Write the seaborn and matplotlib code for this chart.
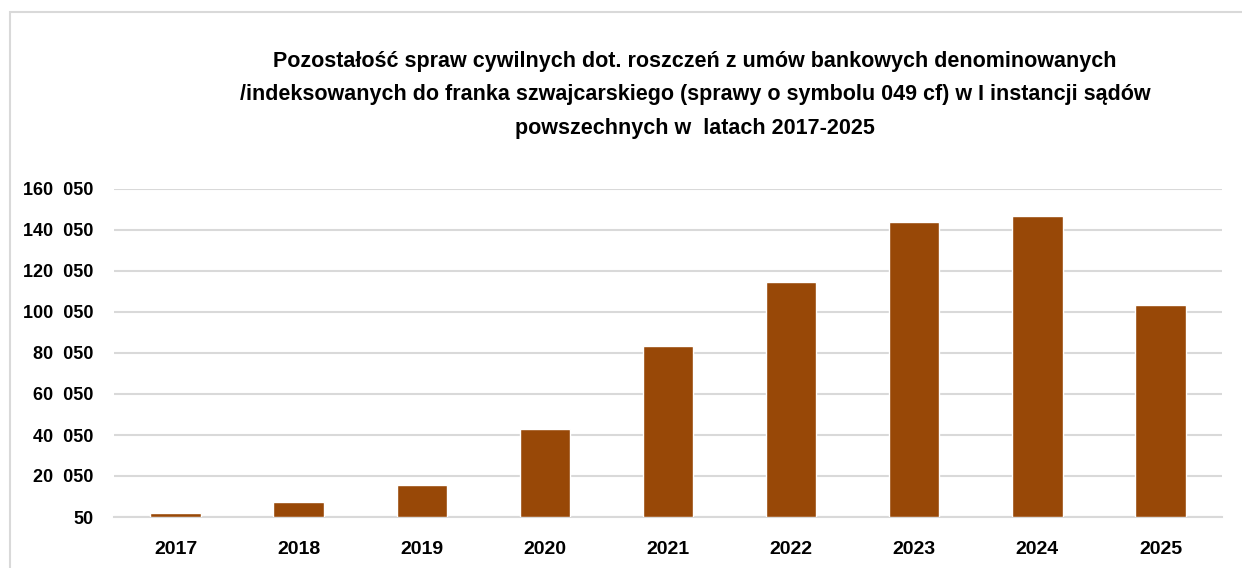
import matplotlib
matplotlib.use("Agg")
import matplotlib.pyplot as plt
import seaborn as sns
import pandas as pd
from matplotlib.patches import Rectangle
from matplotlib.ticker import FuncFormatter

# dane
years = ["2017", "2018", "2019", "2020", "2021", "2022", "2023", "2024", "2025"]
cases = [2000, 7400, 15900, 43200, 83700, 114500, 143800, 146900, 103400]
y_ticks = [50, 20050, 40050, 60050, 80050, 100050, 120050, 140050, 160050]

title = ("Pozostałość spraw cywilnych dot. roszczeń z umów bankowych denominowanych\n"
         "/indeksowanych do franka szwajcarskiego (sprawy o symbolu 049 cf) w I instancji sądów\n"
         "powszechnych w  latach 2017-2025")

sns.set_style("white")
plt.rcParams['font.family'] = ['Liberation Sans', 'DejaVu Sans']
plt.rcParams['font.weight'] = 'bold'
plt.rcParams['text.color'] = 'black'
plt.rcParams['xtick.color'] = 'black'
plt.rcParams['ytick.color'] = 'black'

df = pd.DataFrame({"rok": years, "sprawy": cases})

fig = plt.figure(figsize=(12.42, 5.68), dpi=100)
ax = fig.add_axes([114/1242, 1 - 517/568, (1222 - 114)/1242, (517 - 189)/568])

sns.barplot(data=df, x="rok", y="sprawy", color="#984807", saturation=1,
            width=0.41, ax=ax, zorder=3)

ax.set_ylim(50, 160050)
ax.set_xlim(-0.5, len(years) - 0.5)
ax.set_yticks(y_ticks)
ax.yaxis.set_major_formatter(FuncFormatter(lambda v, p: f"{int(v):,}".replace(",", "  ")))
ax.grid(axis="y", color="#d9d9d9", linewidth=1.5, zorder=0)
for s in ["top", "right", "left"]:
    ax.spines[s].set_visible(False)
ax.spines["bottom"].set_color("#d9d9d9")
ax.spines["bottom"].set_linewidth(1.5)
ax.tick_params(axis="y", length=0, pad=15, labelsize=13)
ax.tick_params(axis="x", length=0, pad=17, labelsize=14)
ax.set_xlabel("")
ax.set_ylabel("")

fig.text(695/1242, 1 - 51/568, title, ha="center", va="top", fontsize=15.5,
         fontweight="bold", linespacing=1.78)

# ramka wykresu
fig.patches.append(Rectangle((10/1242, -0.1), 1.2, 1 - 12/568 + 0.1,
                             transform=fig.transFigure, fill=False,
                             edgecolor="#d9d9d9", linewidth=1.5))

fig.savefig("out.png", dpi=100)
